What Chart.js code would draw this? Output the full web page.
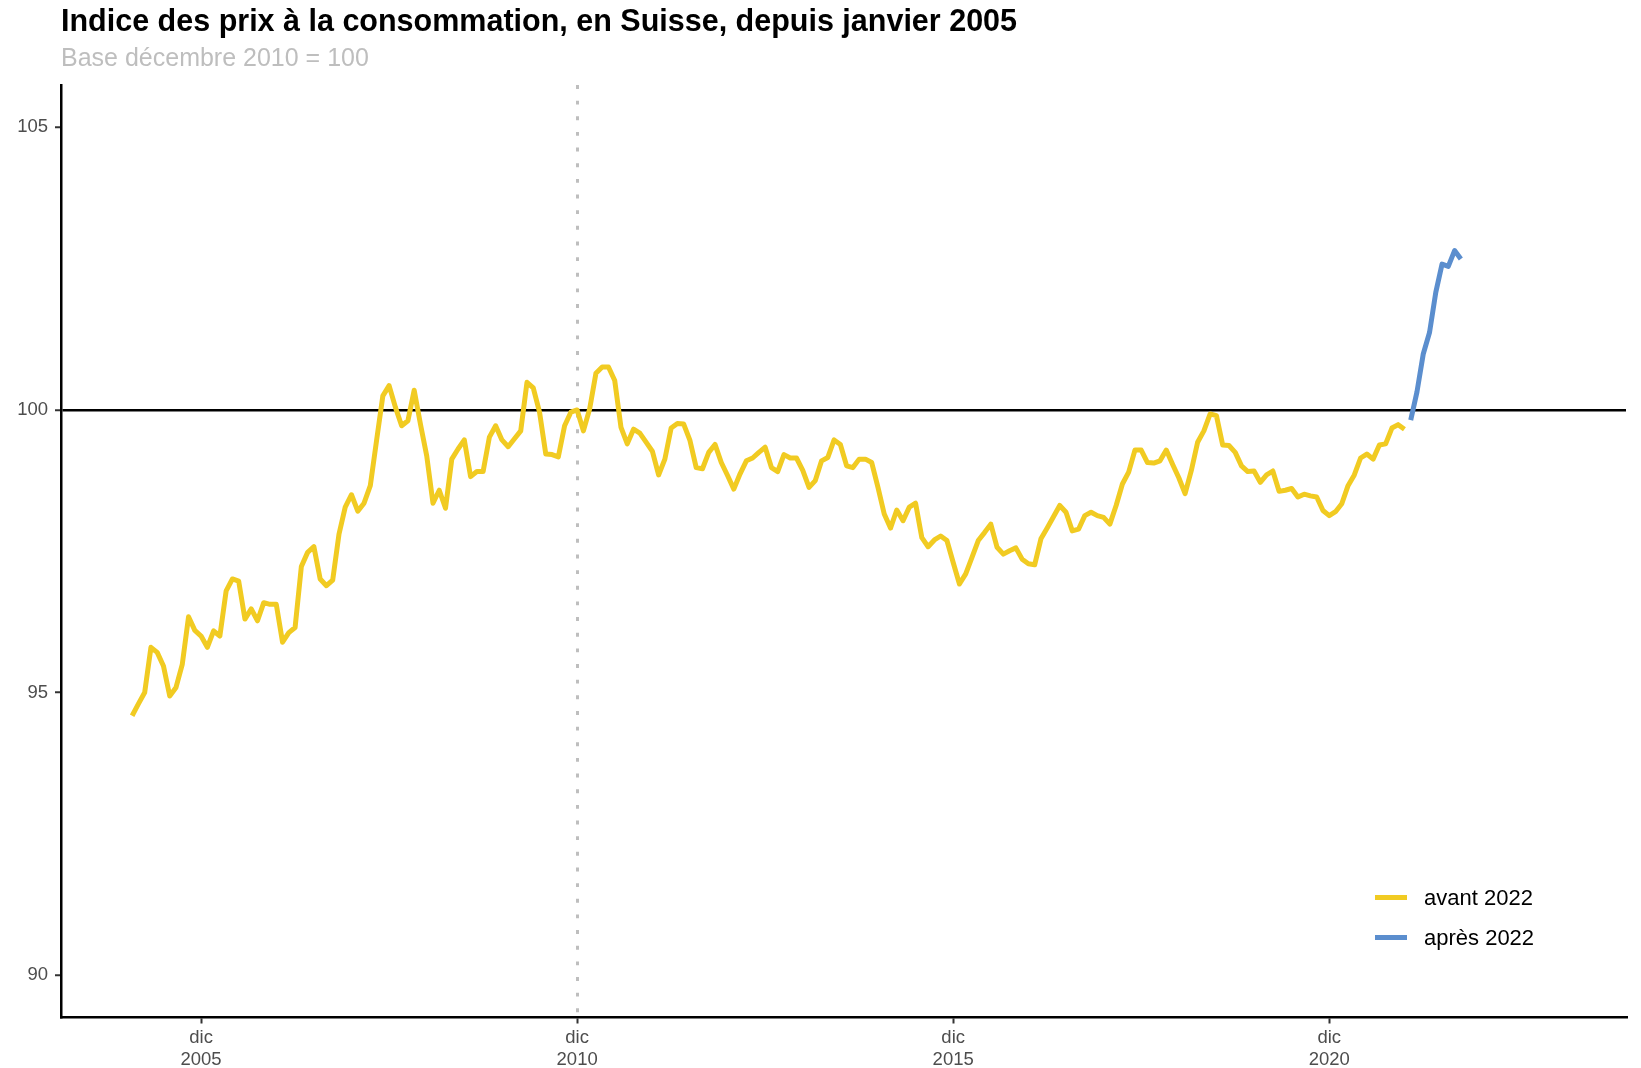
<!DOCTYPE html>
<html lang="fr">
<head>
<meta charset="utf-8">
<title>Indice des prix à la consommation, en Suisse</title>
<script src="https://cdn.jsdelivr.net/npm/chart.js@4.4.1/dist/chart.umd.min.js"></script>
<style>
  html, body { margin: 0; padding: 0; background: #fff; }
  canvas { display: block; }
</style>
</head>
<body>
<canvas id="ipc" width="1641" height="1068"></canvas>
<script>
// Indice mensuel, base décembre 2010 = 100
// janvier 2005 -> décembre 2021
const avant2022 = [
    94.59, 94.80, 95.00, 95.80, 95.71, 95.47, 94.94, 95.09, 95.50, 96.34, 96.10, 96.00,
    95.80, 96.09, 96.00, 96.80, 97.01, 96.97, 96.30, 96.48, 96.27, 96.59, 96.56, 96.56,
    95.89, 96.06, 96.15, 97.23, 97.48, 97.58, 97.01, 96.89, 96.99, 97.80, 98.28, 98.50,
    98.21, 98.35, 98.66, 99.46, 100.25, 100.43, 100.05, 99.72, 99.81, 100.35, 99.75, 99.19,
    98.35, 98.58, 98.26, 99.13, 99.31, 99.47, 98.82, 98.91, 98.91, 99.52, 99.72, 99.47,
    99.35, 99.49, 99.63, 100.49, 100.39, 99.96, 99.22, 99.21, 99.17, 99.72, 99.96, 100.00,
    99.63, 100.02, 100.65, 100.76, 100.76, 100.52, 99.69, 99.40, 99.66, 99.59, 99.43, 99.27,
    98.85, 99.13, 99.68, 99.76, 99.75, 99.46, 98.98, 98.96, 99.25, 99.39, 99.07, 98.84,
    98.60, 98.87, 99.10, 99.15, 99.25, 99.34, 98.98, 98.91, 99.21, 99.15, 99.15, 98.93,
    98.63, 98.75, 99.10, 99.16, 99.47, 99.39, 99.01, 98.98, 99.13, 99.13, 99.07, 98.63,
    98.16, 97.91, 98.23, 98.04, 98.28, 98.35, 97.74, 97.58, 97.70, 97.77, 97.69, 97.30,
    96.92, 97.10, 97.39, 97.69, 97.83, 97.98, 97.57, 97.45, 97.51, 97.56, 97.36, 97.28,
    97.26, 97.72, 97.91, 98.11, 98.31, 98.19, 97.86, 97.89, 98.13, 98.19, 98.13, 98.10,
    97.98, 98.31, 98.69, 98.90, 99.29, 99.29, 99.07, 99.06, 99.10, 99.29, 99.04, 98.80,
    98.52, 98.93, 99.43, 99.63, 99.93, 99.90, 99.38, 99.37, 99.25, 99.01, 98.91, 98.92,
    98.72, 98.85, 98.92, 98.56, 98.58, 98.61, 98.46, 98.51, 98.48, 98.46, 98.22, 98.13,
    98.20, 98.34, 98.66, 98.85, 99.15, 99.22, 99.13, 99.38, 99.40, 99.68, 99.74, 99.66
];
// janvier 2022 -> septembre 2022
const apres2022 = [99.82, 100.32, 100.99, 101.37, 102.08, 102.58, 102.54, 102.82, 102.67];

const nomsSeries = ["avant 2022", "après 2022"];
const couleursSeries = ["#F1CB22", "#5B8ECE"];
const anneesTicks = [2005, 2010, 2015, 2020];
const moisTick = "dic";
const valeursY = [90, 95, 100, 105];

const titre = "Indice des prix à la consommation, en Suisse, depuis janvier 2005";
const sousTitre = "Base décembre 2010 = 100";

const police = '"Liberation Sans", Arial, sans-serif';
Chart.defaults.font.family = police;

// axe x en mois depuis janvier 2005, de janv. 2005 à déc. 2023 (+5 %)
const moisMax = 227;
const margeX = moisMax * 0.05;
const margeY = (valeursY[3] - valeursY[0]) * 0.05;
const moisDe = (annee) => (annee - 2005) * 12 + 11;

// titre et sous-titre alignés sur l'axe y
const titres = {
    id: "titres",
    afterDraw(chart) {
        const ctx = chart.ctx;
        const x = chart.chartArea.left;
        ctx.save();
        ctx.textAlign = "left";
        ctx.textBaseline = "alphabetic";
        ctx.fillStyle = "#000";
        ctx.font = "bold 30.5px " + police;
        ctx.fillText(titre, x, 31);
        ctx.fillStyle = "#BEBEBE";
        ctx.font = "25px " + police;
        ctx.fillText(sousTitre, x, 66);
        ctx.restore();
    },
};

// légende en bas à droite, dans la zone du graphique
const legende = {
    id: "legende",
    afterDraw(chart) {
        const ctx = chart.ctx;
        const a = chart.chartArea;
        ctx.save();
        chart.data.datasets.forEach((ds, i) => {
            const y = a.bottom - 120 + i * 40;
            ctx.strokeStyle = ds.borderColor;
            ctx.lineWidth = 5;
            ctx.beginPath();
            ctx.moveTo(a.right - 251, y);
            ctx.lineTo(a.right - 219, y);
            ctx.stroke();
            ctx.fillStyle = "#000";
            ctx.font = "22px " + police;
            ctx.textAlign = "left";
            ctx.textBaseline = "middle";
            ctx.fillText(ds.label, a.right - 202, y + 1);
        });
        ctx.restore();
    },
};

new Chart(document.getElementById("ipc"), {
    type: "line",
    data: {
        datasets: [
            {
                label: nomsSeries[0],
                data: avant2022.map((v, i) => ({ x: i, y: v })),
                borderColor: couleursSeries[0],
                backgroundColor: couleursSeries[0],
            },
            {
                label: nomsSeries[1],
                data: apres2022.map((v, i) => ({ x: avant2022.length + i, y: v })),
                borderColor: couleursSeries[1],
                backgroundColor: couleursSeries[1],
            },
        ],
    },
    options: {
        responsive: false,
        animation: false,
        layout: { padding: { top: 85, right: 15, left: 0, bottom: 0 } },
        elements: {
            point: { radius: 0 },
            line: { borderWidth: 5, tension: 0, borderJoinStyle: "round", borderCapStyle: "butt" },
        },
        plugins: {
            legend: { display: false },
            tooltip: { enabled: false },
        },
        scales: {
            x: {
                type: "linear",
                min: -margeX,
                max: moisMax + margeX,
                afterBuildTicks: (s) => {
                    s.ticks = anneesTicks.map((a) => ({ value: moisDe(a) }));
                },
                afterFit: (s) => {
                    s.height = 50.5;
                },
                ticks: {
                    autoSkip: false,
                    maxRotation: 0,
                    padding: 3,
                    color: "#4D4D4D",
                    font: { size: 18.5 },
                    callback: (v, i) => [moisTick, String(anneesTicks[i])],
                },
                grid: {
                    drawOnChartArea: true,
                    color: (c) => (c.tick && c.tick.value === moisDe(2010) ? "#BEBEBE" : "rgba(0,0,0,0)"),
                    lineWidth: 3,
                    tickLength: 6,
                    tickWidth: 2,
                    tickColor: "#333",
                },
                border: { display: true, color: "#000", width: 2.5, dash: [3.9, 11.75] },
            },
            y: {
                min: valeursY[0] - margeY,
                max: valeursY[3] + margeY,
                afterBuildTicks: (s) => {
                    s.ticks = valeursY.map((v) => ({ value: v }));
                },
                afterFit: (s) => {
                    s.width = 61;
                },
                ticks: {
                    padding: 7,
                    color: "#4D4D4D",
                    font: { size: 18.5 },
                },
                grid: {
                    color: (c) => (c.tick && c.tick.value === 100 ? "#000" : "rgba(0,0,0,0)"),
                    lineWidth: 2.5,
                    tickLength: 6,
                    tickWidth: 2,
                    tickColor: "#333",
                },
                border: { display: true, color: "#000", width: 2.5 },
            },
        },
    },
    plugins: [titres, legende],
});
</script>
</body>
</html>
